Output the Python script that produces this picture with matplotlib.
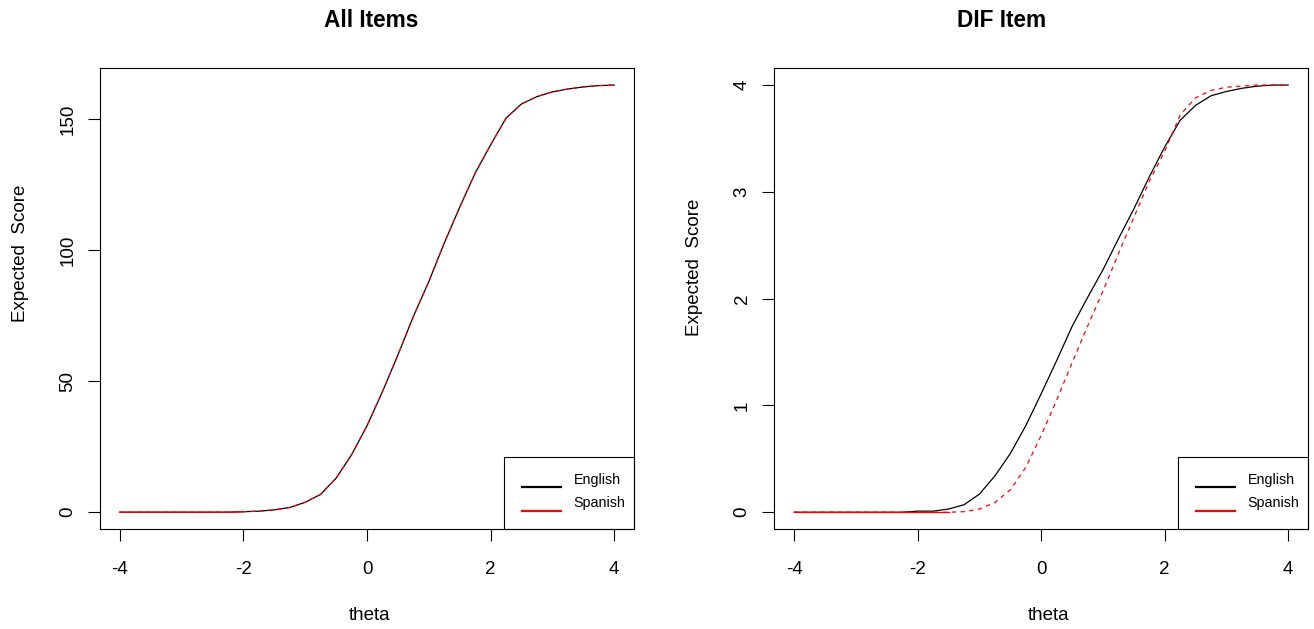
import matplotlib
matplotlib.use("Agg")
import matplotlib.pyplot as plt
from matplotlib.patches import Rectangle
from matplotlib.lines import Line2D

plt.rcParams['font.family'] = ['Liberation Sans', 'DejaVu Sans']
plt.rcParams['axes.unicode_minus'] = False

# theta grid used for both panels
theta = [-4.0, -3.75, -3.5, -3.25, -3.0, -2.75, -2.5, -2.25, -2.0, -1.75, -1.5,
         -1.25, -1.0, -0.75, -0.5, -0.25, 0.0, 0.25, 0.5, 0.75, 1.0, 1.25, 1.5,
         1.75, 2.0, 2.25, 2.5, 2.75, 3.0, 3.25, 3.5, 3.75, 4.0]

# expected total score, all items
all_english = [0, 0, 0, 0, 0, 0, 0, 0, 0.2, 0.4, 0.9,
               1.8, 3.8, 6.8, 13.0, 21.9, 33.0, 46.0, 60.0, 74.7, 88.0, 102.7, 116.4,
               129.4, 140.2, 150.4, 155.8, 158.6, 160.4, 161.5, 162.3, 162.8, 163.0]
all_spanish = [0, 0, 0, 0, 0, 0, 0, 0, 0.2, 0.4, 0.9,
               1.8, 3.8, 6.8, 13.0, 21.9, 33.0, 46.0, 60.0, 74.7, 88.0, 102.7, 116.4,
               129.4, 140.2, 150.4, 155.8, 158.6, 160.4, 161.5, 162.3, 162.8, 163.0]

# expected score on the DIF item
dif_english = [0, 0, 0, 0, 0, 0, 0, 0, 0.01, 0.01, 0.03,
               0.07, 0.17, 0.34, 0.55, 0.81, 1.11, 1.42, 1.74, 2.01, 2.27, 2.56, 2.84,
               3.14, 3.42, 3.67, 3.81, 3.90, 3.94, 3.97, 3.99, 4.0, 4.0]
dif_spanish = [0, 0, 0, 0, 0, 0, 0, 0, 0, 0, 0,
               0.005, 0.03, 0.09, 0.21, 0.42, 0.72, 1.05, 1.40, 1.74, 2.07, 2.42, 2.76,
               3.10, 3.38, 3.72, 3.88, 3.95, 3.98, 3.99, 4.0, 4.0, 4.0]

# title, curves, y ticks, title x, xlabel x, ylabel y, points in the flat red part
panels = [
    ("All Items", all_english, all_spanish, [0, 50, 100, 150], 0.508, 0.504, 0.599, 9),
    ("DIF Item", dif_english, dif_spanish, [0, 1, 2, 3, 4], 0.4264, 0.514, 0.5675, 11),
]
legend_labels = ["English", "Spanish"]
legend_colors = ["black", "red"]

fig = plt.figure(figsize=(13.14, 6.29), dpi=100)
positions = [[0.0761, 0.1585, 0.4064, 0.7334], [0.5894, 0.1585, 0.4060, 0.7334]]

for pos, (title, eng, spa, yticks, title_x, xl_x, yl_y, n_flat) in zip(positions, panels):
    ax = fig.add_axes(pos)
    ax.plot(theta, eng, color="black", lw=0.9)
    ax.plot(theta, spa, color="red", lw=0.9, dashes=(3.5, 3.5))
    # flat part of the red curve renders solid in the original
    ax.plot(theta[:n_flat], spa[:n_flat], color="red", lw=0.9)

    ax.margins(x=0.04, y=0.04)
    ax.set_xticks([-4, -2, 0, 2, 4])
    ax.set_yticks(yticks)
    ax.tick_params(length=8.6, width=0.8, labelsize=13.5, colors="black")
    ax.tick_params(axis="x", pad=14)
    ax.tick_params(axis="y", pad=8.5, labelrotation=90)
    for lab in ax.get_yticklabels():
        lab.set_verticalalignment("center")
    for s in ax.spines.values():
        s.set_linewidth(0.8)
        s.set_color("black")

    ax.set_xlabel("theta", fontsize=13.5, labelpad=21, x=xl_x)
    ax.set_ylabel("Expected  Score", fontsize=13.5, labelpad=22, y=yl_y)
    ax.set_title(title, fontsize=16.3, fontweight="bold", x=title_x, pad=29.5)

    # legend box at bottom right
    ax.add_patch(Rectangle((0.757, 0.0), 0.243, 0.1574, transform=ax.transAxes,
                           fill=False, edgecolor="black", lw=0.8, clip_on=False))
    for lbl, col, ly, ty in zip(legend_labels, legend_colors, [0.0924, 0.0403], [0.107, 0.057]):
        ax.add_line(Line2D([0.79, 0.864], [ly, ly], transform=ax.transAxes,
                           color=col, lw=1.6))
        ax.text(0.887, ty, lbl, transform=ax.transAxes, fontsize=10.3,
                va="center", ha="left")

fig.savefig("out.png", dpi=100)
